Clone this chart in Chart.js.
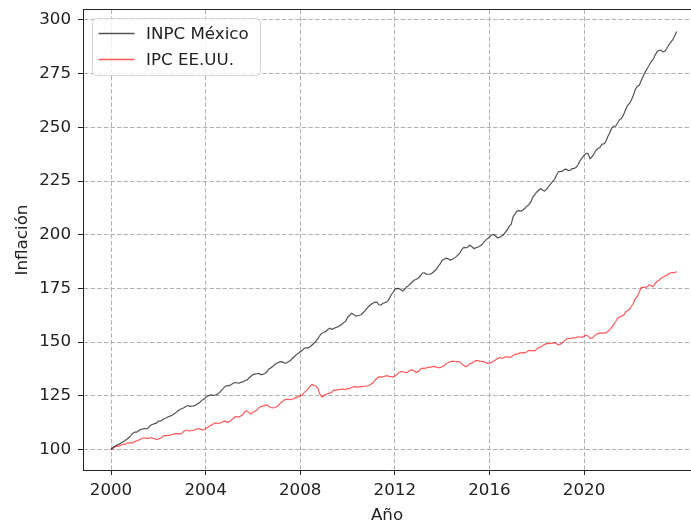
<!DOCTYPE html>
<html>
<head>
<meta charset="utf-8">
<script src="https://cdn.jsdelivr.net/npm/chart.js@4.4.0/dist/chart.umd.min.js"></script>
<style>
html, body { margin: 0; padding: 0; background: #fff; overflow: hidden; }
</style>
</head>
<body>
<canvas id="grafica" width="691" height="523"></canvas>
<script>
// datos mensuales, enero 2000 = 100
const anioInicio = 2000;

const inpcMexico = [
    100.0, 101.0, 101.6, 102.1, 102.5, 103.1, 103.5, 104.1, 104.8, 105.5, 106.4, 107.5,
    108.1, 108.1, 108.8, 109.3, 109.6, 109.9, 109.6, 110.2, 111.3, 111.7, 112.1, 112.3,
    113.3, 113.2, 113.8, 114.5, 114.7, 115.3, 115.6, 116.0, 116.7, 117.2, 118.1, 118.7,
    119.1, 119.5, 120.2, 120.5, 120.1, 120.2, 120.3, 120.7, 121.4, 121.9, 122.9, 123.4,
    124.2, 124.9, 125.3, 125.5, 125.2, 125.4, 125.8, 126.5, 127.6, 128.5, 129.5, 129.8,
    129.8, 130.3, 130.9, 131.3, 131.0, 130.9, 131.4, 131.5, 132.1, 132.4, 133.3, 134.1,
    134.9, 135.1, 135.3, 135.5, 134.9, 135.0, 135.4, 136.1, 137.4, 138.0, 138.7, 139.5,
    140.2, 140.6, 140.9, 140.8, 140.2, 140.3, 140.9, 141.4, 142.5, 143.2, 144.2, 144.8,
    145.5, 146.1, 147.1, 147.4, 147.3, 147.9, 148.7, 149.5, 150.5, 151.6, 153.2, 154.2,
    154.6, 155.0, 155.9, 156.5, 156.0, 156.3, 156.8, 157.1, 157.7, 158.2, 159.1, 159.7,
    161.5, 162.4, 163.5, 163.0, 162.2, 162.2, 162.5, 162.9, 163.8, 164.7, 166.0, 166.8,
    167.6, 168.2, 168.6, 168.5, 167.3, 167.3, 168.1, 168.4, 168.8, 169.9, 171.8, 173.1,
    174.5, 174.9, 175.0, 174.4, 173.8, 174.6, 175.7, 176.3, 177.3, 178.2, 178.9, 179.3,
    180.0, 180.9, 182.2, 182.3, 181.7, 181.6, 181.7, 182.2, 183.0, 183.8, 185.4, 186.4,
    188.1, 188.6, 189.1, 188.8, 188.2, 188.5, 189.0, 189.7, 190.6, 191.6, 193.1, 194.1,
    193.9, 194.3, 195.1, 194.5, 193.6, 193.9, 194.2, 194.6, 195.3, 196.3, 197.4, 198.2,
    198.9, 199.8, 200.1, 199.5, 198.6, 198.8, 199.3, 199.9, 201.1, 202.3, 203.9, 204.8,
    208.4, 209.7, 211.0, 211.2, 211.0, 211.5, 212.3, 213.3, 214.0, 215.3, 217.5, 218.7,
    219.9, 220.7, 221.5, 220.7, 220.3, 221.2, 222.4, 223.7, 224.7, 225.8, 227.7, 229.3,
    229.5, 229.5, 230.4, 230.5, 229.8, 230.0, 230.8, 230.9, 231.4, 232.7, 234.5, 235.8,
    236.9, 237.9, 237.8, 235.4, 236.3, 237.6, 239.2, 240.1, 240.6, 242.1, 242.3, 243.2,
    245.6, 247.3, 249.6, 250.5, 250.5, 252.0, 253.6, 254.1, 255.8, 258.1, 260.1, 261.1,
    262.7, 264.9, 267.6, 269.1, 269.5, 271.8, 273.8, 275.7, 277.4, 278.9, 280.5, 281.5,
    283.5, 285.1, 285.8, 285.8, 285.1, 285.4, 286.8, 288.4, 289.6, 290.8, 292.6, 294.6
];

const ipcEEUU = [
    100.0, 100.6, 101.4, 101.5, 101.6, 102.1, 102.4, 102.4, 102.9, 103.1, 103.1, 103.1,
    103.7, 104.1, 104.4, 104.8, 105.3, 105.5, 105.2, 105.2, 105.6, 105.3, 105.1, 104.7,
    104.9, 105.3, 105.9, 106.5, 106.5, 106.6, 106.7, 107.1, 107.2, 107.4, 107.4, 107.2,
    107.6, 108.5, 109.1, 108.9, 108.7, 108.8, 109.0, 109.4, 109.7, 109.6, 109.3, 109.2,
    109.7, 110.3, 111.0, 111.4, 112.0, 112.4, 112.2, 112.3, 112.5, 113.1, 113.2, 112.7,
    113.0, 113.6, 114.5, 115.3, 115.2, 115.2, 115.8, 116.4, 117.8, 118.0, 117.1, 116.6,
    117.5, 117.7, 118.4, 119.4, 120.0, 120.2, 120.6, 120.8, 120.2, 119.6, 119.4, 119.6,
    119.9, 120.6, 121.7, 122.4, 123.2, 123.4, 123.4, 123.2, 123.5, 123.8, 124.5, 124.4,
    125.1, 125.4, 126.5, 127.3, 128.3, 129.6, 130.3, 129.8, 129.6, 128.3, 125.8, 124.5,
    125.1, 125.7, 126.0, 126.3, 126.7, 127.8, 127.6, 127.9, 127.9, 128.1, 128.2, 127.9,
    128.4, 128.4, 128.9, 129.2, 129.3, 129.1, 129.2, 129.3, 129.4, 129.6, 129.6, 129.8,
    130.5, 131.1, 132.4, 133.2, 133.9, 133.7, 133.8, 134.2, 134.4, 134.1, 134.0, 133.7,
    134.3, 134.9, 135.9, 136.3, 136.2, 136.0, 135.7, 136.5, 137.1, 137.0, 136.4, 136.0,
    136.4, 137.5, 137.9, 137.8, 138.0, 138.3, 138.4, 138.6, 138.7, 138.4, 138.1, 138.1,
    138.6, 139.1, 140.0, 140.4, 140.9, 141.2, 141.1, 140.9, 141.0, 140.7, 139.9, 139.1,
    138.5, 139.1, 139.9, 140.2, 140.9, 141.4, 141.4, 141.2, 141.0, 140.9, 140.6, 140.1,
    140.4, 140.5, 141.1, 141.7, 142.3, 142.8, 142.6, 142.7, 143.0, 143.2, 143.0, 143.0,
    143.9, 144.3, 144.4, 144.9, 145.0, 145.1, 145.0, 145.5, 146.2, 146.1, 146.1, 146.0,
    146.8, 147.5, 147.8, 148.4, 149.0, 149.3, 149.3, 149.4, 149.5, 149.8, 149.3, 148.8,
    149.1, 149.7, 150.6, 151.4, 151.7, 151.7, 152.0, 152.0, 152.1, 152.5, 152.4, 152.2,
    152.8, 153.2, 152.9, 151.9, 151.9, 152.7, 153.5, 154.0, 154.2, 154.3, 154.2, 154.3,
    155.0, 155.8, 156.9, 158.2, 159.5, 161.0, 161.7, 162.1, 162.5, 163.9, 164.7, 165.2,
    166.6, 168.1, 170.3, 171.3, 173.2, 175.5, 175.5, 175.5, 175.8, 176.6, 176.4, 175.8,
    177.2, 178.2, 178.8, 179.7, 180.2, 180.8, 181.1, 181.9, 182.3, 182.4, 182.5, 182.7
];

const ticksX = [2000, 2004, 2008, 2012, 2016, 2020];
const ticksY = [100, 125, 150, 175, 200, 225, 250, 275, 300];
const etiquetas = ['INPC México', 'IPC EE.UU.'];
const colores = ['rgba(0,0,0,0.68)', 'rgba(255,0,0,0.65)'];

function puntos(serie) {
    return serie.map((v, i) => ({ x: anioInicio + i / 12, y: v }));
}

Chart.defaults.font.family = '"DejaVu Sans"';
Chart.defaults.font.size = 16.7;
Chart.defaults.color = '#222';

// marco superior (el eje de matplotlib)
const marco = {
    id: 'marco',
    afterDatasetsDraw(chart) {
        const ctx = chart.ctx, a = chart.chartArea;
        ctx.save();
        ctx.strokeStyle = '#222';
        ctx.lineWidth = 1;
        ctx.setLineDash([]);
        ctx.beginPath();
        ctx.moveTo(a.left, Math.round(a.top) - 0.5);
        ctx.lineTo(a.right + 2, Math.round(a.top) - 0.5);
        ctx.stroke();
        ctx.restore();
    }
};

const leyenda = {
    id: 'leyenda',
    afterDraw(chart) {
        const ctx = chart.ctx, a = chart.chartArea;
        const x0 = a.left + 9.5, y0 = a.top + 8.5;
        ctx.save();
        ctx.setLineDash([]);
        ctx.beginPath();
        ctx.roundRect(x0, y0, 168, 57, 4);
        ctx.fillStyle = 'rgba(255,255,255,0.8)';
        ctx.fill();
        ctx.strokeStyle = 'rgba(204,204,204,0.8)';
        ctx.lineWidth = 1;
        ctx.stroke();
        etiquetas.forEach((txt, i) => {
            const y = y0 + 15 + i * 26;
            ctx.beginPath();
            ctx.moveTo(x0 + 6, y);
            ctx.lineTo(x0 + 42, y);
            ctx.strokeStyle = colores[i];
            ctx.lineWidth = 1.3;
            ctx.stroke();
            ctx.fillStyle = '#222';
            ctx.font = '16.7px "DejaVu Sans"';
            ctx.textBaseline = 'middle';
            ctx.fillText(txt, x0 + 53.5, y + 1);
        });
        ctx.restore();
    }
};

const ctx = document.getElementById('grafica').getContext('2d');

new Chart(ctx, {
    type: 'line',
    data: {
        datasets: [{
            label: etiquetas[0],
            data: puntos(inpcMexico),
            borderColor: colores[0],
            borderWidth: 1.2,
            pointRadius: 0,
            fill: false
        }, {
            label: etiquetas[1],
            data: puntos(ipcEEUU),
            borderColor: colores[1],
            borderWidth: 1.2,
            pointRadius: 0,
            fill: false
        }]
    },
    options: {
        responsive: false,
        animation: false,
        events: [],
        layout: { padding: { top: 10, left: 0, right: 0, bottom: 0 } },
        plugins: {
            legend: { display: false },
            tooltip: { enabled: false }
        },
        scales: {
            x: {
                type: 'linear',
                min: 1998.816,
                max: 2024.52,
                afterBuildTicks: (s) => { s.ticks = ticksX.map(v => ({ value: v })); },
                afterFit: (s) => { s.height = 53; s.paddingLeft = 0; s.paddingRight = 0; },
                ticks: { padding: 6, callback: (v) => String(v) },
                grid: {
                    color: '#b0b0b0',
                    lineWidth: 1,
                    tickLength: 5,
                    tickColor: '#222',
                    tickBorderDash: []
                },
                border: { color: '#222', width: 1, dash: [4.4, 2.2] },
                title: {
                    display: true,
                    text: 'Año',
                    font: { size: 16.7, lineHeight: 0.85 },
                    padding: { top: 0, bottom: 0 }
                }
            },
            y: {
                min: 90.5,
                max: 304.6,
                afterBuildTicks: (s) => { s.ticks = ticksY.map(v => ({ value: v })); },
                afterFit: (s) => { s.width = 83; s.paddingTop = 0; s.paddingBottom = 0; },
                ticks: { padding: 7, callback: (v) => String(v) },
                grid: {
                    color: '#b0b0b0',
                    lineWidth: 1,
                    tickLength: 5,
                    tickColor: '#222',
                    tickBorderDash: []
                },
                border: { color: '#222', width: 1, dash: [4.4, 2.2] },
                title: {
                    display: true,
                    text: 'Inflación',
                    font: { size: 16.7, lineHeight: 1 },
                    padding: { top: 14, bottom: 0 }
                }
            }
        }
    },
    plugins: [marco, leyenda]
});
</script>
</body>
</html>
